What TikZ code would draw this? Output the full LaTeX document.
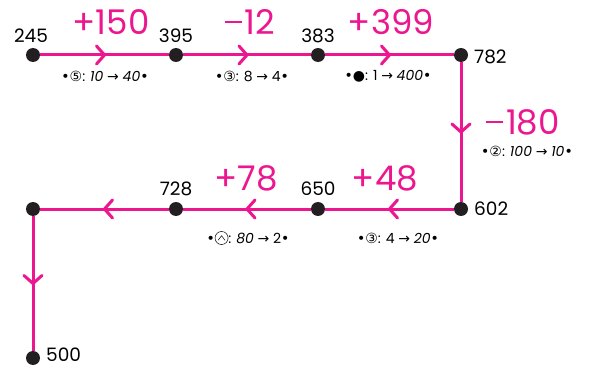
\documentclass[tikz,border=0pt]{standalone}
\usepackage{fontspec}
\setmainfont{Poppins}
\newfontfamily\sym{DejaVu Sans}
\usetikzlibrary{decorations.markings}
\definecolor{lpink}{HTML}{EC168F}
\definecolor{dotc}{HTML}{231F20}
\newcommand{\circcaret}{\tikz[baseline=-0.75ex]{\draw[line width=0.5pt] (0,0) circle (0.85ex); \draw[line width=0.5pt] (-0.45ex,-0.3ex)--(0,0.3ex)--(0.45ex,-0.3ex);}}
\newcommand{\mns}{\raisebox{0.33em}{\rule{0.5em}{0.06em}}\hspace{0.08em}}
\tikzset{
  dot/.style={circle, fill=dotc, inner sep=0pt, minimum size=14pt},
  seg/.style={draw=lpink, line width=3pt, postaction={decorate}, decoration={markings, mark=at position 0.5 with {\draw[lpink, line width=3pt, line cap=round] (-8pt,9pt)--(0pt,0pt)--(-8pt,-9pt);}}},
  val/.style={font=\fontsize{18.5}{20}\selectfont, text=black, inner sep=0pt, text height=1.5ex, text depth=0pt},
  op/.style={font=\fontsize{34}{36}\selectfont, text=lpink, inner sep=1pt},
  note/.style={font=\fontsize{14}{16}\selectfont, text=black, inner sep=1pt}
}
\begin{document}
\begin{tikzpicture}[x=1pt,y=-1pt]
\useasboundingbox (0,0) rectangle (590,369);
% dots
\node[dot] (a) at (33,55) {};
\node[dot] (b) at (176,55) {};
\node[dot] (c) at (318,55) {};
\node[dot] (d) at (461,55) {};
\node[dot] (e) at (461,209) {};
\node[dot] (f) at (318,209) {};
\node[dot] (g) at (176,209) {};
\node[dot] (h) at (33,209) {};
\node[dot] (i) at (33,358) {};
% connectors
\draw[seg] (a) -- (b);
\draw[seg] (b) -- (c);
\draw[seg] (c) -- (d);
\draw[seg] (d) -- (e);
\draw[seg] (e) -- (f);
\draw[seg] (f) -- (g);
\draw[seg] (g) -- (h);
\draw[seg] (h) -- (i);
% values
\node[val] (va) at (31,38) {245};
\node[val] (vb) at (176,38) {395};
\node[val] (vc) at (318,38) {383};
\node[val, anchor=west] (vd) at (474,59) {782};
\node[val, anchor=west] (ve) at (474,211) {602};
\node[val] (vf) at (318,191) {650};
\node[val] (vg) at (176,191) {728};
\node[val, anchor=west] (vi) at (46,357) {500};
% operations
\node[op] (oa) at (111,22) {+150};
\node[op] (ob) at (250,22) {\mns12};
\node[op] (oc) at (391,22) {+399};
\node[op] (od) at (523,122) {\mns180};
\node[op] (oe) at (385,178) {+48};
\node[op] (of) at (246,178) {+78};
% notes
\node[note] (na) at (105,76) {{\sym •⑤}: \textit{10} {\sym →} \textit{40}{\sym •}};
\node[note] (nb) at (252,76) {{\sym •③}: 8 {\sym →} 4{\sym •}};
\node[note] (nc) at (388,76) {{\sym •●}: 1 {\sym →} \textit{400}{\sym •}};
\node[note] (nd) at (527,151) {{\sym •②}: \textit{100} {\sym →} \textit{10}{\sym •}};
\node[note] (nf) at (248,238) {{\sym •}\circcaret: \textit{80} {\sym →} 2{\sym •}};
\node[note] (ne) at (398,238) {{\sym •③}: 4 {\sym →} \textit{20}{\sym •}};
\end{tikzpicture}
\end{document}
